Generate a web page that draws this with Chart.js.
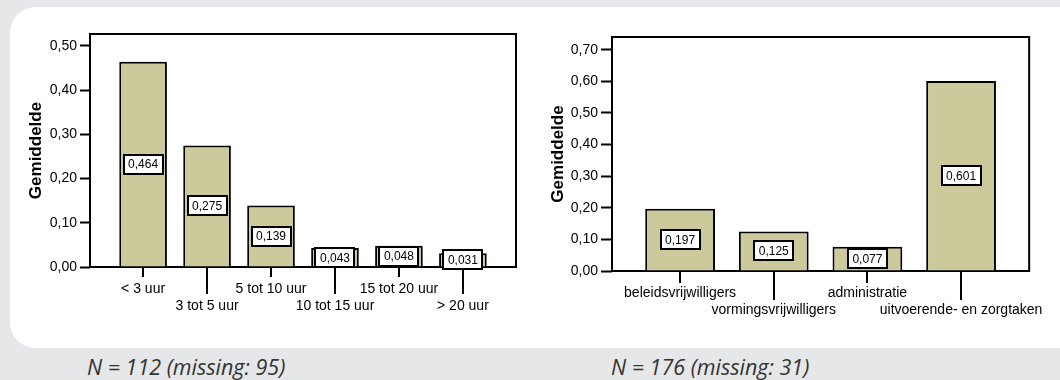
<!DOCTYPE html>
<html>
<head>
<meta charset="utf-8">
<script src="https://cdn.jsdelivr.net/npm/chart.js@4/dist/chart.umd.min.js"></script>
<style>
  html, body { margin: 0; padding: 0; }
  body { width: 1060px; height: 380px; background: #e6e7e8; position: relative; overflow: hidden; }
  #panel { position: absolute; left: 10px; top: 7px; width: 1075px; height: 341px; background: #fff; border-radius: 26px; }
  canvas { position: absolute; top: 0; }
  #c1 { left: 0; }
  #c2 { left: 530px; }
  .note { position: absolute; top: 352px; font-family: "Open Sans", "Noto Sans", sans-serif; font-style: italic; font-size: 21.5px; color: #333; white-space: nowrap; }
</style>
</head>
<body>
<div id="panel"></div>
<canvas id="c1" width="530" height="340"></canvas>
<canvas id="c2" width="530" height="340"></canvas>
<div class="note" style="left:87px">N = 112 (missing: 95)</div>
<div class="note" style="left:611px">N = 176 (missing: 31)</div>
<script>
// Gemiddelde per aantal uren vrijwilligerswerk
const urenCategorieen = ['< 3 uur', '3 tot 5 uur', '5 tot 10 uur', '10 tot 15 uur', '15 tot 20 uur', '> 20 uur'];
const urenGemiddelde = [0.464, 0.275, 0.139, 0.043, 0.048, 0.031];
const urenTicks = [0, 0.1, 0.2, 0.3, 0.4, 0.5];

// Gemiddelde per soort vrijwilligerstaak
const takenCategorieen = ['beleidsvrijwilligers', 'vormingsvrijwilligers', 'administratie', 'uitvoerende- en zorgtaken'];
const takenGemiddelde = [0.197, 0.125, 0.077, 0.601];
const takenTicks = [0, 0.1, 0.2, 0.3, 0.4, 0.5, 0.6, 0.7];

const FONT = "'Liberation Sans', Arial, sans-serif";
const BAR_FILL = '#ccc99a';
const komma = (v, d) => v.toFixed(d).replace('.', ',');

// Plot frame, staggered category tick marks and boxed value labels
const spssPlugin = {
  id: 'spssStyle',
  beforeDatasetsDraw(chart, args, opts) {
    const { ctx, chartArea: a, scales: { x } } = chart;
    ctx.save();
    ctx.strokeStyle = '#000';
    ctx.lineWidth = 2;
    ctx.strokeRect(a.left, a.top, a.right - a.left, a.bottom - a.top);
    x.ticks.forEach((t, i) => {
      const px = Math.round(x.getPixelForValue(t.value));
      const len = i % 2 ? opts.longTick : opts.shortTick;
      ctx.beginPath();
      ctx.moveTo(px, a.bottom);
      ctx.lineTo(px, a.bottom + len);
      ctx.stroke();
    });
    ctx.restore();
  },
  afterDatasetsDraw(chart) {
    const { ctx } = chart;
    const meta = chart.getDatasetMeta(0);
    const values = chart.data.datasets[0].data;
    ctx.save();
    ctx.font = '12px ' + FONT;
    ctx.textAlign = 'center';
    ctx.textBaseline = 'middle';
    meta.data.forEach((el, i) => {
      const txt = komma(values[i].y, 3);
      const w = Math.round(ctx.measureText(txt).width) + 9;
      const h = 19;
      const cx = el.x;
      const cy = (el.y + el.base) / 2;
      const x0 = Math.round(cx - w / 2), y0 = Math.round(cy - h / 2);
      ctx.fillStyle = '#fff';
      ctx.fillRect(x0, y0, w, h);
      ctx.strokeStyle = '#000';
      ctx.lineWidth = 2;
      ctx.strokeRect(x0, y0, w, h);
      ctx.fillStyle = '#000';
      ctx.fillText(txt, cx, cy + 1);
    });
    ctx.restore();
  }
};

function maakGrafiek(canvasId, categorieen, waarden, yTicks, cfg) {
  const punten = waarden.map((v, i) => ({ x: i, y: v }));
  return new Chart(document.getElementById(canvasId), {
    type: 'bar',
    data: {
      datasets: [{
        data: punten,
        backgroundColor: BAR_FILL,
        borderColor: '#000',
        borderWidth: 2,
        categoryPercentage: 1,
        barPercentage: 0.745
      }]
    },
    plugins: [spssPlugin],
    options: {
      responsive: false,
      animation: false,
      devicePixelRatio: 1,
      layout: { padding: { left: 0, top: cfg.top, right: cfg.right, bottom: 0 } },
      plugins: {
        legend: { display: false },
        tooltip: { enabled: false },
        spssStyle: { shortTick: cfg.shortTick, longTick: cfg.longTick }
      },
      scales: {
        x: {
          type: 'linear',
          offset: false,
          min: -cfg.pad,
          max: categorieen.length - 1 + cfg.pad,
          afterFit: s => { s.height = cfg.xHeight; },
          grid: { display: false, drawTicks: false, offset: false },
          border: { display: false },
          ticks: {
            stepSize: 1,
            includeBounds: false,
            autoSkip: false,
            maxRotation: 0,
            minRotation: 0,
            padding: cfg.labelPad,
            color: '#000',
            font: { family: FONT, size: 14 },
            callback: v => {
              const i = Math.round(v);
              if (i < 0 || i >= categorieen.length) return '';
              return i % 2 ? ['', categorieen[i]] : categorieen[i];
            }
          }
        },
        y: {
          min: 0,
          max: cfg.yMax,
          afterFit: s => { s.width = cfg.yWidth; },
          afterBuildTicks: s => { s.ticks = yTicks.map(v => ({ value: v })); },
          grid: { drawOnChartArea: false, drawTicks: true, tickLength: cfg.yTickLen, tickColor: '#000', tickWidth: 2 },
          border: { display: false },
          ticks: {
            padding: 3,
            color: '#000',
            font: { family: FONT, size: 14 },
            callback: v => komma(v, 2)
          },
          title: {
            display: true,
            text: 'Gemiddelde',
            color: '#000',
            font: { family: FONT, size: 17, weight: 'bold' },
            padding: { top: cfg.titlePad, bottom: 0 }
          }
        }
      }
    }
  });
}

maakGrafiek('c1', urenCategorieen, urenGemiddelde, urenTicks, {
  top: 34, right: 14, xHeight: 73, yWidth: 90, yMax: 0.527, pad: 0.83,
  shortTick: 10, longTick: 27, labelPad: 14, yTickLen: 10, titlePad: 26
});

maakGrafiek('c2', takenCategorieen, takenGemiddelde, takenTicks, {
  top: 37, right: 22, xHeight: 69, yWidth: 82, yMax: 0.74, pad: 0.727,
  shortTick: 12, longTick: 29, labelPad: 14, yTickLen: 11, titlePad: 18
});
</script>
</body>
</html>
